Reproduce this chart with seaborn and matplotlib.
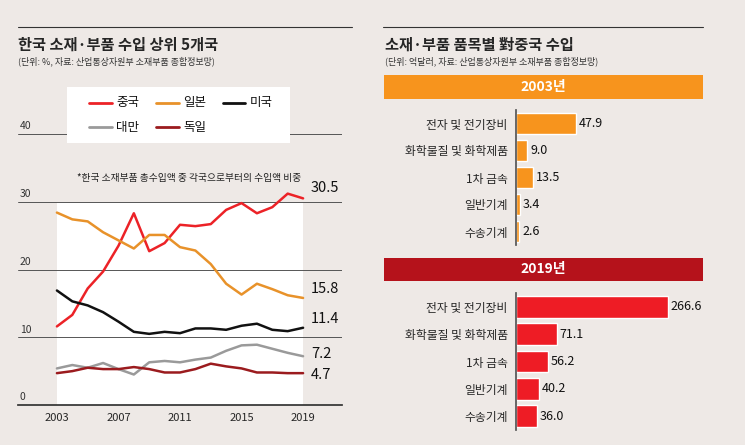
import numpy as np
import pandas as pd
import matplotlib.pyplot as plt
import seaborn as sns
from matplotlib.patches import Rectangle

years = list(range(2003, 2020))
china = [11.6, 13.3, 17.2, 19.7, 23.5, 28.3, 22.7, 23.9, 26.6, 26.4, 26.7, 28.8, 29.8, 28.3, 29.2, 31.2, 30.5]
japan = [28.4, 27.4, 27.1, 25.5, 24.3, 23.1, 25.1, 25.1, 23.3, 22.8, 20.8, 17.9, 16.3, 17.9, 17.1, 16.2, 15.8]
usa = [16.9, 15.3, 14.7, 13.7, 12.3, 10.8, 10.5, 10.8, 10.6, 11.3, 11.3, 11.1, 11.7, 12.0, 11.1, 10.9, 11.4]
taiwan = [5.4, 5.9, 5.5, 6.2, 5.3, 4.5, 6.3, 6.5, 6.3, 6.7, 7.0, 8.0, 8.8, 8.9, 8.3, 7.7, 7.2]
germany = [4.7, 5.0, 5.5, 5.3, 5.3, 5.6, 5.3, 4.8, 4.8, 5.3, 6.1, 5.7, 5.4, 4.8, 4.8, 4.7, 4.7]

countries = ['중국', '일본', '미국', '대만', '독일']
colors = ['#ec2227', '#e8922a', '#111111', '#9a9a9a', '#9b1b1e']

items = ['전자 및 전기장비', '화학물질 및 화학제품', '1차 금속', '일반기계', '수송기계']
val_2003 = [47.9, 9.0, 13.5, 3.4, 2.6]
val_2019 = [266.6, 71.1, 56.2, 40.2, 36.0]

sns.set_theme(style='white')
plt.rcParams['font.family'] = ['Noto Sans CJK KR', 'DejaVu Sans']

W, H = 745, 445
BG = '#eee9e6'
fig = plt.figure(figsize=(W / 100, H / 100), dpi=100, facecolor=BG)


def box(x0, y0, x1, y1):
    return [x0 / W, 1 - y1 / H, (x1 - x0) / W, (y1 - y0) / H]


# ---- left: line chart
ax = fig.add_axes(box(18, 134, 342, 405))
ax.set_facecolor('none')
df = pd.DataFrame({'연도': years * 5,
                   '국가': np.repeat(countries, len(years)),
                   '비중': china + japan + usa + taiwan + germany})
ax.add_patch(Rectangle((2003, 0), 16, 30, facecolor='white', edgecolor='none', zorder=0))
for y in [10, 20, 30, 40]:
    ax.axhline(y, color='#555555', lw=0.7, zorder=0.5)
sns.lineplot(data=df, x='연도', y='비중', hue='국가', palette=dict(zip(countries, colors)),
             lw=1.8, ax=ax, legend=False, zorder=3)
ax.set_xlim(2000.47, 2021.53)
ax.set_ylim(0, 40)
ax.set_xlabel('')
ax.set_ylabel('')
ax.set_xticks([2003, 2007, 2011, 2015, 2019])
ax.set_yticks([])
for s in ['top', 'right', 'left']:
    ax.spines[s].set_visible(False)
ax.spines['bottom'].set_color('#333333')
ax.tick_params(axis='x', labelsize=8, length=4, color='#333333', direction='in', pad=6)
for y in [0, 10, 20, 30, 40]:
    ax.text(2000.6, y + 0.4, str(y), fontsize=7.5, va='bottom', ha='left', color='#333333')
for v, dy in zip([china[-1], japan[-1], usa[-1], taiwan[-1], germany[-1]], [1.5, 1.3, 1.3, 0.3, -0.2]):
    ax.text(2019.5, v + dy, f'{v:.1f}', fontsize=10.5, va='center', ha='left', color='#111111')
ax.text(2011.6, 33.5, '*한국 소재부품 총수입액 중 각국으로부터의 수입액 비중', fontsize=7,
        ha='center', va='center', color='#222222')

# legend box
lg = fig.add_axes(box(67, 87, 290, 143))
lg.set_xlim(0, 1)
lg.set_ylim(0, 1)
lg.set_facecolor('white')
lg.set_xticks([])
lg.set_yticks([])
for s in lg.spines.values():
    s.set_visible(False)
pos = [(0.1, 0.72), (0.4, 0.72), (0.7, 0.72), (0.1, 0.28), (0.4, 0.28)]
for (px, py), c, n in zip(pos, colors, countries):
    lg.plot([px, px + 0.1], [py, py], color=c, lw=2)
    lg.text(px + 0.12, py, n, fontsize=9, va='center', color='#111111')

# left titles
fig.add_artist(plt.Line2D([18 / W, 352 / W], [1 - 27 / H, 1 - 27 / H], color='#333333', lw=0.8))
fig.text(18 / W, 1 - 45 / H, '한국 소재·부품 수입 상위 5개국', fontsize=11, weight='bold', va='center')
fig.text(18 / W, 1 - 61 / H, '(단위: %, 자료: 산업통상자원부 소재부품 종합정보망)', fontsize=6.5, va='center', color='#333333')

# ---- right: bar charts
fig.add_artist(plt.Line2D([383 / W, 703 / W], [1 - 27 / H, 1 - 27 / H], color='#333333', lw=0.8))
fig.text(385 / W, 1 - 45 / H, '소재·부품 품목별 對중국 수입', fontsize=11, weight='bold', va='center')
fig.text(385 / W, 1 - 61 / H, '(단위: 억달러, 자료: 산업통상자원부 소재부품 종합정보망)', fontsize=6.5, va='center', color='#333333')

for (y0, y1), label, c in [((75, 99), '2003년', '#f7941d'), ((258, 281), '2019년', '#b5121b')]:
    fig.add_artist(Rectangle((384 / W, 1 - y1 / H), (703 - 384) / W, (y1 - y0) / H,
                             transform=fig.transFigure, facecolor=c, edgecolor='none'))
    fig.text(543 / W, 1 - (y0 + y1) / 2 / H, label, fontsize=10, weight='bold', color='white',
             ha='center', va='center')

for (y0, y1), vals, c, xmax in [((110, 245), val_2003, '#f7941d', 147),
                                ((293, 430), val_2019, '#ee1c25', 323)]:
    bx = fig.add_axes(box(516, y0, 700, y1))
    bx.set_facecolor('none')
    sns.barplot(x=vals, y=items, color=c, orient='h', width=0.8, ax=bx, saturation=1)
    bx.set_xlim(0, xmax)
    bx.set_xticks([])
    bx.set_xlabel('')
    for s in ['top', 'right', 'bottom']:
        bx.spines[s].set_visible(False)
    bx.spines['left'].set_color('#555555')
    bx.tick_params(axis='y', length=0, labelsize=8.5, pad=6)
    for i, v in enumerate(vals):
        bx.text(v + xmax * 0.015, i, f'{v:.1f}', fontsize=9, va='center', color='#111111')

fig.savefig('out.png', dpi=100, facecolor=BG)
